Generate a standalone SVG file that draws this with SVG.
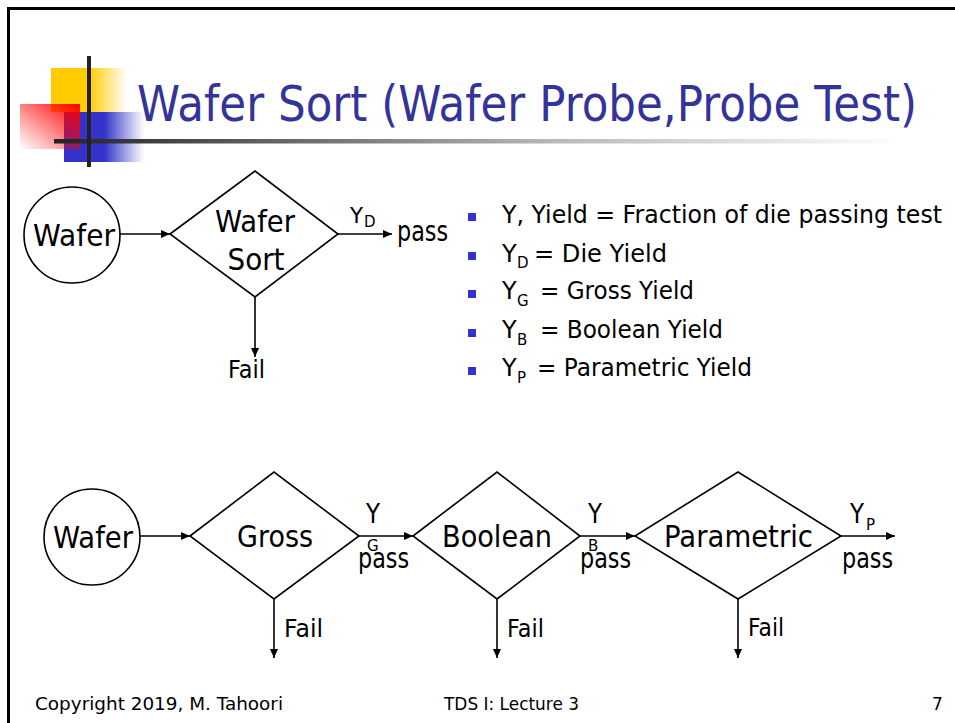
<svg xmlns="http://www.w3.org/2000/svg" width="955" height="723" viewBox="0 0 955 723">
<style>
text{font-family:"DejaVu Sans","Liberation Sans",sans-serif;fill:#000}
.shape{fill:#fff;stroke:#000;stroke-width:1.6}
.conn{stroke:#000;stroke-width:1.6;fill:none}
.lbl{font-size:30px;text-anchor:middle}
.pass{font-size:28px}
.fail{font-size:25px}
.ybig{font-size:27px}
.sub{font-size:15px}
.bul{font-size:24px}
.foot{font-size:17px}
.title{font-size:50px;fill:#333399}
.sq{fill:#3333CC}
</style>
<defs>
<marker id="ah" markerUnits="userSpaceOnUse" markerWidth="10" markerHeight="8" refX="9" refY="4" orient="auto">
<path d="M0,0 L9,4 L0,8 Z" fill="#000"/>
</marker>
<linearGradient id="gy" x1="0" y1="0" x2="1" y2="0">
<stop offset="0" stop-color="#FFCC00"/><stop offset="0.5" stop-color="#FFCC00"/><stop offset="1" stop-color="#FFCC00" stop-opacity="0"/>
</linearGradient>
<linearGradient id="gb" x1="0" y1="0" x2="1" y2="0">
<stop offset="0" stop-color="#3333CC"/><stop offset="0.5" stop-color="#3333CC"/><stop offset="1" stop-color="#3333CC" stop-opacity="0"/>
</linearGradient>
<linearGradient id="gr" x1="1" y1="0" x2="0" y2="1">
<stop offset="0" stop-color="#FF0000"/><stop offset="1" stop-color="#FF0000" stop-opacity="0"/>
</linearGradient>
<linearGradient id="gl" x1="0" y1="0" x2="1" y2="0">
<stop offset="0" stop-color="#222"/><stop offset="0.6" stop-color="#bbb"/><stop offset="1" stop-color="#fff"/>
</linearGradient>
</defs>
<rect width="955" height="723" fill="#fff"/>
<path d="M8.5,723 V8.5 H955" fill="none" stroke="#000" stroke-width="3"/>
<g id="logo">
<rect x="51" y="68" width="76" height="44" fill="url(#gy)"/>
<rect x="64" y="112" width="80" height="50" fill="url(#gb)"/>
<rect x="20" y="104" width="60" height="45" fill="url(#gr)"/>
<rect x="54" y="139" width="850" height="4.5" fill="url(#gl)"/>
<rect x="87" y="56" width="4" height="111" fill="#222"/>
</g>
<g id="title"><text class="title" x="137" y="121" textLength="780" lengthAdjust="spacingAndGlyphs">Wafer Sort (Wafer Probe,Probe Test)</text></g>
<g id="connectors">
<line class="conn" x1="120" y1="234" x2="170" y2="234" marker-end="url(#ah)"/>
<line class="conn" x1="338" y1="234" x2="392" y2="234" marker-end="url(#ah)"/>
<line class="conn" x1="255" y1="297" x2="255" y2="357" marker-end="url(#ah)"/>
<line class="conn" x1="140" y1="536" x2="190" y2="536" marker-end="url(#ah)"/>
<line class="conn" x1="359" y1="536" x2="413" y2="536" marker-end="url(#ah)"/>
<line class="conn" x1="580" y1="536" x2="635" y2="536" marker-end="url(#ah)"/>
<line class="conn" x1="841" y1="536" x2="895" y2="536" marker-end="url(#ah)"/>
<line class="conn" x1="274" y1="599" x2="274" y2="658" marker-end="url(#ah)"/>
<line class="conn" x1="497" y1="599" x2="497" y2="658" marker-end="url(#ah)"/>
<line class="conn" x1="738" y1="599" x2="738" y2="658" marker-end="url(#ah)"/>
</g>
<g id="labels">
<text x="350" y="223" style="font-size:21px" textLength="13" lengthAdjust="spacingAndGlyphs">Y</text>
<text class="sub" x="364" y="227">D</text>
<text class="pass" x="397" y="241" textLength="51" lengthAdjust="spacingAndGlyphs">pass</text>
<text class="fail" x="228" y="378" textLength="37" lengthAdjust="spacingAndGlyphs">Fail</text>
<text class="ybig" x="366" y="523" textLength="14" lengthAdjust="spacingAndGlyphs">Y</text>
<text class="sub" x="367" y="551">G</text>
<text class="pass" x="358" y="568" textLength="51" lengthAdjust="spacingAndGlyphs">pass</text>
<text class="ybig" x="588" y="523" textLength="14" lengthAdjust="spacingAndGlyphs">Y</text>
<text class="sub" x="588" y="551">B</text>
<text class="pass" x="580" y="568" textLength="51" lengthAdjust="spacingAndGlyphs">pass</text>
<text class="ybig" x="850" y="523" textLength="14" lengthAdjust="spacingAndGlyphs">Y</text>
<text class="sub" x="866" y="530">P</text>
<text class="pass" x="842" y="568" textLength="51" lengthAdjust="spacingAndGlyphs">pass</text>
<text class="fail" x="284" y="637" textLength="39" lengthAdjust="spacingAndGlyphs">Fail</text>
<text class="fail" x="507" y="637" textLength="37" lengthAdjust="spacingAndGlyphs">Fail</text>
<text class="fail" x="748" y="636" textLength="36" lengthAdjust="spacingAndGlyphs">Fail</text>
</g>
<g id="wafer1">
<circle class="shape" cx="72" cy="235" r="48"/>
<text class="lbl" x="74" y="246" textLength="82" lengthAdjust="spacingAndGlyphs">Wafer</text>
</g>
<g id="wafersort">
<polygon class="shape" points="170,234 255,171 338,234 255,297"/>
<text class="lbl" x="255" y="232" textLength="80" lengthAdjust="spacingAndGlyphs">Wafer</text>
<text class="lbl" x="256" y="270" textLength="57" lengthAdjust="spacingAndGlyphs">Sort</text>
</g>
<g id="wafer2">
<circle class="shape" cx="92" cy="537" r="48"/>
<text class="lbl" x="93" y="548" textLength="80" lengthAdjust="spacingAndGlyphs">Wafer</text>
</g>
<g id="gross">
<polygon class="shape" points="190,536 274,472 359,536 274,599"/>
<text class="lbl" x="275" y="547" textLength="76" lengthAdjust="spacingAndGlyphs">Gross</text>
</g>
<g id="boolean">
<polygon class="shape" points="413,536 497,472 580,536 497,599"/>
<text class="lbl" x="497" y="547" textLength="110" lengthAdjust="spacingAndGlyphs">Boolean</text>
</g>
<g id="parametric">
<polygon class="shape" points="635,536 738,472 841,536 738,599"/>
<text class="lbl" x="738.5" y="547" textLength="149" lengthAdjust="spacingAndGlyphs">Parametric</text>
</g>
<g id="bullets">
<rect class="sq" x="468" y="213" width="8" height="8"/>
<rect class="sq" x="468" y="252" width="8" height="8"/>
<rect class="sq" x="468" y="290" width="8" height="8"/>
<rect class="sq" x="468" y="329" width="8" height="8"/>
<rect class="sq" x="468" y="367" width="8" height="8"/>
<text class="bul" x="502" y="223" textLength="440" lengthAdjust="spacingAndGlyphs">Y, Yield = Fraction of die passing test</text>
<text class="bul" x="502" y="262">Y</text><text class="sub" x="517" y="268">D</text>
<text class="bul" x="534" y="262" textLength="133" lengthAdjust="spacingAndGlyphs">= Die Yield</text>
<text class="bul" x="502" y="299">Y</text><text class="sub" x="517" y="306">G</text>
<text class="bul" x="540" y="299" textLength="154" lengthAdjust="spacingAndGlyphs">= Gross Yield</text>
<text class="bul" x="502" y="338">Y</text><text class="sub" x="517" y="345">B</text>
<text class="bul" x="540" y="338" textLength="183" lengthAdjust="spacingAndGlyphs">= Boolean Yield</text>
<text class="bul" x="502" y="376">Y</text><text class="sub" x="517" y="383">P</text>
<text class="bul" x="537" y="376" textLength="215" lengthAdjust="spacingAndGlyphs">= Parametric Yield</text>
</g>
<g id="footer">
<text class="foot" x="35" y="710" textLength="248" lengthAdjust="spacingAndGlyphs">Copyright 2019, M. Tahoori</text>
<text class="foot" x="444" y="710" textLength="135" lengthAdjust="spacingAndGlyphs">TDS I: Lecture 3</text>
<text class="foot" x="932" y="710">7</text>
</g>
</svg>
